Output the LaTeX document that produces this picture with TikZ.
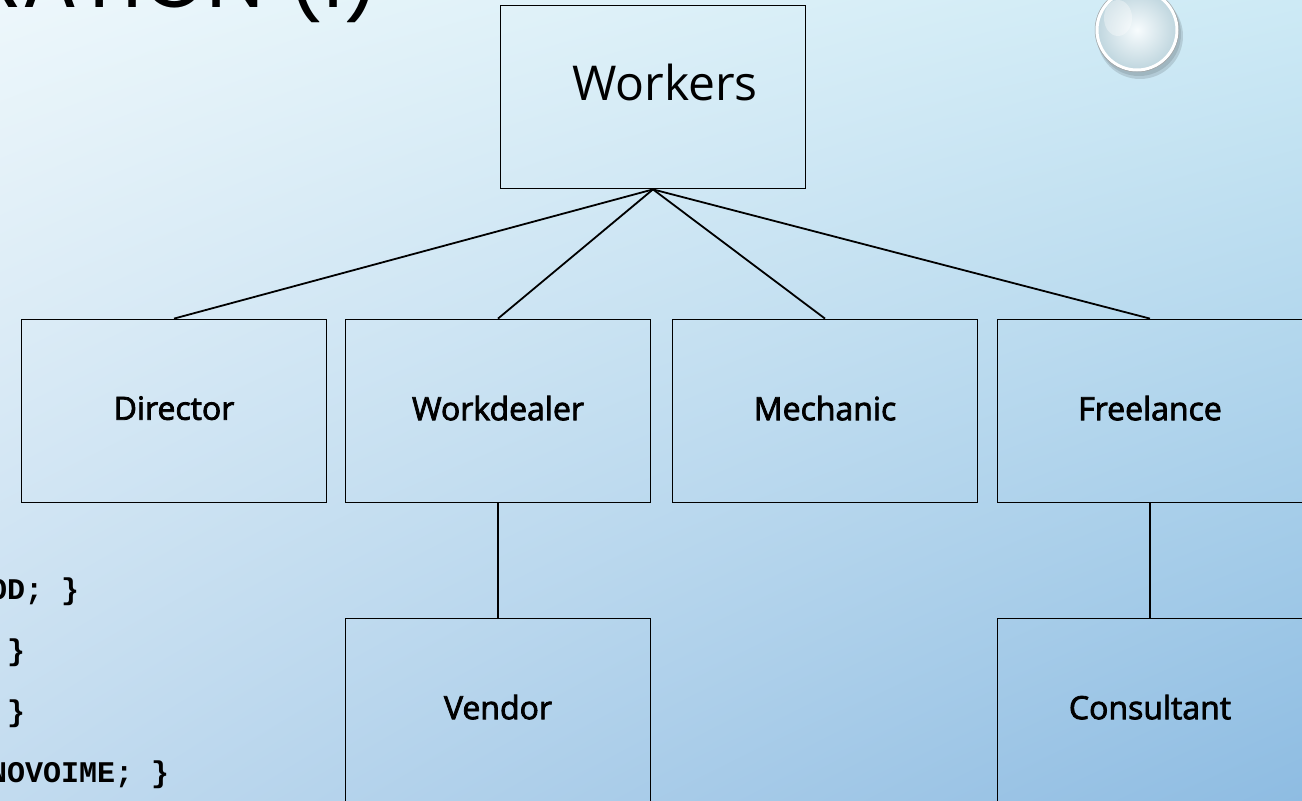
\documentclass[tikz,border=0pt]{standalone}
\usepackage{fontspec}
\setmainfont{Open Sans}
\newfontfamily\titlefont{Poppins}
\newfontfamily\labelfont[FakeBold=2.5]{Open Sans}
\newfontfamily\codefont{Liberation Mono}
\usetikzlibrary{shadings}
\definecolor{bgtl}{HTML}{EDF7FB}
\definecolor{bgtr}{HTML}{CDEAF5}
\definecolor{bgbl}{HTML}{C2DBEF}
\definecolor{bgbr}{HTML}{8EBCE2}
\tikzset{
  orgbox/.style={draw,line width=1.8pt,minimum width=305pt,minimum height=183pt,inner sep=0pt,text depth=6pt,font=\labelfont\fontsize{32}{36}\selectfont},
  orgline/.style={line width=1.8pt}
}

\begin{document}
\begin{tikzpicture}[x=1pt,y=-1pt]
                \useasboundingbox (0,0) rectangle (1302,801);
                \clip (0,0) rectangle (1302,801);
                \shade[upper left=bgtl,upper right=bgtr,lower left=bgbl,lower right=bgbr] (0,0) rectangle (1302,801);
                % bubble
                \fill[black,opacity=0.12] (1140,36) circle (43);
                \fill[black,opacity=0.10] (1139,34) circle (42);
                \shade[inner color=white!85!bgtr,outer color=bgtr!80!gray] (1137,30) circle (41);
                \fill[white,opacity=0.35] (1118,18) ellipse (14 and 18);
                \draw[white,line width=3pt] (1137,30) circle (40);
                \draw[gray!70,line width=0.5pt] (1137,30) circle (42);
                % leftover slide text
                \node[font=\titlefont\fontsize{82}{86}\selectfont,anchor=base east,inner sep=0pt] (title) at (381,7) {RATION (I)};
                \node[font=\codefont\bfseries\fontsize{30}{60.7}\selectfont,anchor=base west,align=left,inner sep=0pt] (code) at (-11,782) {OD; \}\\~\}\\~\}\\NOVOIME; \}};
                % boxes
                \node[orgbox] (workers) at (653,97) {};
                \node[font=\fontsize{48}{52}\selectfont] (workerstext) at (665,82) {Workers};
                \node[orgbox] (director) at (174,411) {Director};
                \node[orgbox] (workdealer) at (498,411) {Workdealer};
                \node[orgbox] (mechanic) at (825,411) {Mechanic};
                \node[orgbox] (freelance) at (1150,411) {Freelance};
                \node[orgbox] (vendor) at (498,710) {Vendor};
                \node[orgbox] (consultant) at (1150,710) {Consultant};
                \draw[orgline] (workers.south)--(director.north);
                \draw[orgline] (workers.south)--(workdealer.north);
                \draw[orgline] (workers.south)--(mechanic.north);
                \draw[orgline] (workers.south)--(freelance.north);
                \draw[orgline] (workdealer.south)--(vendor.north);
                \draw[orgline] (freelance.south)--(consultant.north);
            \end{tikzpicture}
\end{document}
